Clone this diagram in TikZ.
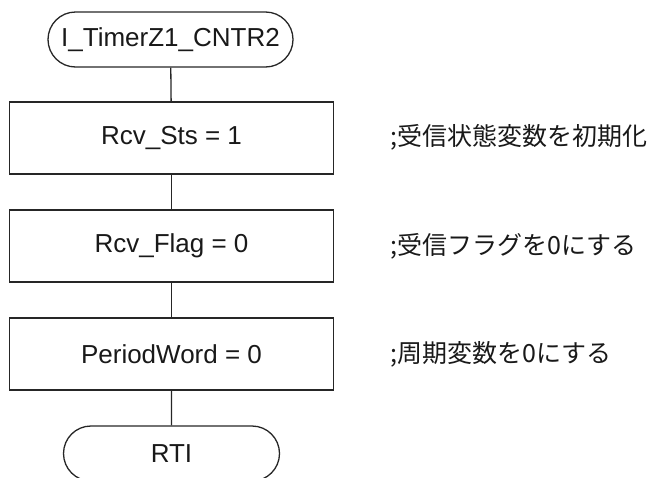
\documentclass[tikz,border=0pt]{standalone}
\usepackage{fontspec}
\setmainfont{Liberation Sans}
\newfontfamily\jpfont{Noto Sans CJK JP}
\usepackage{tikz}
\usetikzlibrary{shapes,positioning}

\begin{document}
\begin{tikzpicture}[x=1pt, y=-1pt, line width=1.3pt, draw=black!85, term node/.style={rounded rectangle,draw,minimum width=245pt,minimum height=55pt,inner sep=0pt}, proc node/.style={rectangle,draw,minimum width=324pt,minimum height=72pt,inner sep=0pt}, note node/.style={anchor=west,inner sep=0pt,font=\jpfont\fontsize{25}{30}\selectfont}]%
\useasboundingbox (0,0) rectangle (652,477);
\begin{scope}[every node/.style={font=\fontsize{26}{30}\selectfont, text=black!90}]
\node[term node] (start) at (170.5,39.5) {I\_TimerZ1\_CNTR2};
\node[proc node] (sts) at (171.5,138) {Rcv\_Sts = 1};
\node[proc node] (flag) at (171.5,246) {Rcv\_Flag = 0};
\node[proc node] (period) at (171.5,354) {PeriodWord = 0};
\node[term node, minimum width=216pt] (rti) at (171.5,453.5) {RTI};
\end{scope}
\begin{scope}[every node/.style={note node, text=black!90}]
\node (n1) at (390,137) {;受信状態変数を初期化};
\node (n2) at (390,246) {;受信フラグを0にする};
\node (n3) at (390,354) {;周期変数を0にする};
\end{scope}
\begin{scope}
\draw (start) -- (sts);
\draw (sts) -- (flag);
\draw (flag) -- (period);
\draw (period) -- (rti);
\end{scope}
\end{tikzpicture}
\end{document}
